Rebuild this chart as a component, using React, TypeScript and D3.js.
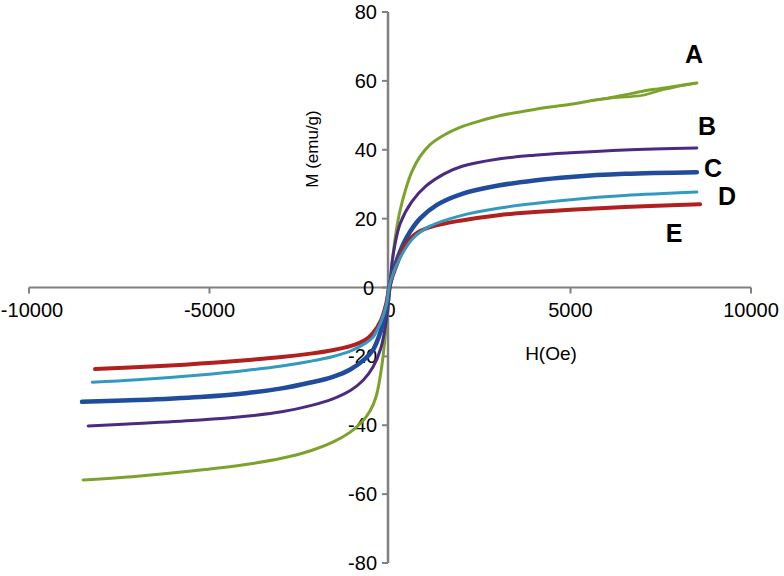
import * as d3 from "d3";
import React from "react";

// M(H) curves, [H (Oe), M (emu/g)]
const curveA: [number, number][] = [
  [-8500, -55.9], [-7000, -54.8], [-5500, -53.3], [-4000, -51.4], [-3000, -49.6],
  [-2200, -47.4], [-1600, -45], [-1100, -42], [-800, -39.3], [-550, -35.8],
  [-380, -31.5], [-230, -23], [-100, -11], [0, 0], [100, 11], [250, 21], [420, 28],
  [600, 33.5], [830, 38], [1110, 41.5], [1500, 44.3], [1940, 46.5], [2500, 48.4],
  [3000, 49.8], [4000, 51.7], [5000, 53.2], [5600, 54.3], [6000, 54.9], [6500, 55.9],
  [7000, 57.0], [7500, 57.8], [8000, 58.6], [8500, 59.4],
];
// return branch of A, where the small loop opens near the top
const curveAReturn: [number, number][] = [
  [5600, 54.3], [6000, 54.9], [6500, 55.3], [7000, 55.8], [7500, 57.3], [8000, 58.4], [8500, 59.4],
];
const curveB: [number, number][] = [
  [-8360, -40.2], [-7000, -39.5], [-5260, -38.5], [-4000, -37.4], [-3000, -36.1],
  [-2200, -34.3], [-1600, -32.4], [-1100, -29.9], [-750, -27], [-470, -23.1],
  [-250, -17.5], [-80, -8], [0, 1], [80, 9], [280, 18.5], [610, 25], [1000, 29.5],
  [1500, 33], [2000, 35.2], [3000, 37.3], [4000, 38.4], [5000, 39.1], [6500, 39.9],
  [8500, 40.5],
];
const curveC: [number, number][] = [
  [-8530, -33.2], [-7000, -32.7], [-5260, -31.8], [-4000, -30.7], [-3000, -29.3],
  [-2200, -27.6], [-1600, -26], [-1100, -23.8], [-700, -20.8], [-470, -18.1],
  [-250, -12.5], [-100, -6], [0, 1], [190, 8], [470, 14.7], [830, 20], [1300, 24],
  [2000, 27.2], [3000, 29.6], [4000, 31.1], [5000, 32.1], [6500, 33], [8500, 33.5],
];
const curveD: [number, number][] = [
  [-8250, -27.5], [-7000, -26.8], [-5260, -25.4], [-4000, -24.1], [-3000, -22.8],
  [-2200, -21.4], [-1600, -20.1], [-1100, -18.5], [-700, -16.3], [-470, -14.4],
  [-250, -10], [-100, -5], [0, 1.3], [280, 8.6], [640, 14.3], [1110, 17.8],
  [1940, 20.8], [3000, 23], [4000, 24.4], [5000, 25.5], [6500, 26.7], [8500, 27.7],
];
const curveE: [number, number][] = [
  [-8170, -23.7], [-6500, -22.9], [-5260, -22.1], [-4000, -21.1], [-3000, -20.2],
  [-2200, -19.2], [-1600, -18.2], [-1100, -17], [-700, -15.3], [-470, -13.2],
  [-250, -9.5], [-100, -4.5], [0, 1], [200, 7], [450, 12.8], [800, 16.2],
  [1200, 17.8], [1940, 19.4], [3000, 21], [4000, 21.9], [5000, 22.6], [6500, 23.4],
  [8590, 24.2],
];

const xTicks = [-10000, -5000, 0, 5000, 10000];
const yTicks = [-80, -60, -40, -20, 0, 20, 40, 60, 80];

const series = [
  { name: "A", data: curveA, color: "#7ba32c", width: 3 },
  { name: "A2", data: curveAReturn, color: "#7ba32c", width: 2.5 },
  { name: "B", data: curveB, color: "#4b2b82", width: 3 },
  { name: "C", data: curveC, color: "#1f4c9c", width: 4.5 },
  { name: "E", data: curveE, color: "#b0201e", width: 4 },
  { name: "D", data: curveD, color: "#3399c1", width: 3 },
];

const letters = [
  { t: "A", x: 694, y: 63 },
  { t: "B", x: 707, y: 135 },
  { t: "C", x: 713, y: 177 },
  { t: "D", x: 727, y: 205 },
  { t: "E", x: 674, y: 242 },
];

const W = 784;
const H = 576;
const font = "'Liberation Sans', Arial, sans-serif";

export default function App() {
  const x = d3.scaleLinear().domain([-10000, 10000]).range([29, 751]);
  const y = d3.scaleLinear().domain([-80, 80]).range([563, 12]);
  const line = d3
    .line<[number, number]>()
    .x((d) => x(d[0]))
    .y((d) => y(d[1]))
    .curve(d3.curveCatmullRom.alpha(0.5));

  const axisColor = "#808080";

  return (
    <div style={{ position: "fixed", left: 0, top: 0 }}>
      <svg width={W} height={H} style={{ display: "block", background: "#fff" }}>
        {/* x axis */}
        <line x1={x(-10000)} x2={x(10000)} y1={y(0)} y2={y(0)} stroke={axisColor} strokeWidth={2} />
        {xTicks.map((t) => (
          <g key={"x" + t}>
            <line x1={x(t)} x2={x(t)} y1={y(0)} y2={y(0) + 6} stroke={axisColor} strokeWidth={2} />
            <text
              x={Math.max(x(t), 32)}
              y={317}
              textAnchor="middle"
              fontFamily={font}
              fontSize={20}
              fill="#000"
            >
              {t}
            </text>
          </g>
        ))}
        {/* y axis */}
        <line x1={x(0) - 2} x2={x(0) - 2} y1={y(80)} y2={y(-80)} stroke={axisColor} strokeWidth={2.5} />
        {yTicks.map((t) => (
          <g key={"y" + t}>
            <line x1={x(0) - 8} x2={x(0) - 2} y1={y(t)} y2={y(t)} stroke={axisColor} strokeWidth={2} />
            <text x={t === 0 ? 374 : 377} y={y(t) + 7} textAnchor="end" fontFamily={font} fontSize={20} fill="#000">
              {t}
            </text>
          </g>
        ))}
        {/* curves */}
        {series.map((s) => (
          <path
            key={s.name}
            d={line(s.data) ?? ""}
            fill="none"
            stroke={s.color}
            strokeWidth={s.width}
            strokeLinecap="round"
          />
        ))}
        {/* axis titles */}
        <text
          transform="translate(318,149) rotate(-90)"
          textAnchor="middle"
          fontFamily={font}
          fontSize={17}
          fill="#000"
        >
          M (emu/g)
        </text>
        <text x={551} y={360} textAnchor="middle" fontFamily={font} fontSize={19} fill="#000">
          H(Oe)
        </text>
        {letters.map((l) => (
          <text
            key={l.t}
            x={l.x}
            y={l.y}
            textAnchor="middle"
            fontFamily={font}
            fontSize={25}
            fontWeight="bold"
            fill="#000"
          >
            {l.t}
          </text>
        ))}
      </svg>
    </div>
  );
}
